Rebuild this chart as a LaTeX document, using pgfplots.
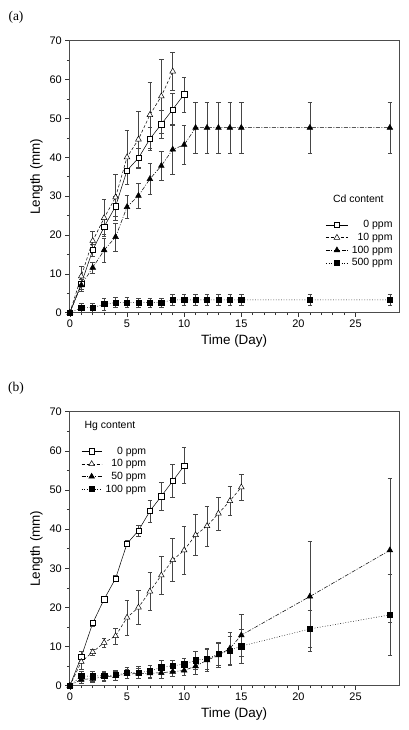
\documentclass[border=0pt]{standalone}
\usepackage{fontspec}
\setmainfont{Liberation Sans}
\newfontfamily\timesfont{Liberation Serif}
\usepackage{pgfplots}
\usepackage{pgfplotstable}
\pgfplotsset{compat=1.18}

% Panel (a): Cd
\pgfplotstableread{
x y e
0 0 0
1 7.5 1.5
2 16.1 1.5
3 22.1 2.0
4 27.4 2.5
5 36.6 3.5
6 39.8 2.5
7 44.7 3.0
8 48.5 3.6
9 52.3 4.1
10 56.2 4.5
}\cdA
\pgfplotstableread{
x y e
0 0 0
1 9.4 2.6
2 18.5 2.5
3 24.4 4.7
4 29.7 5.9
5 40.0 6.9
6 44.6 7.2
7 50.9 8.5
8 55.7 9.5
9 62.1 4.8
}\cdB
\pgfplotstableread{
x y e
0 0 0
1 7.1 1.5
2 11.6 1.5
3 16.1 3.0
4 19.5 3.6
5 27.2 3.0
6 30.1 3.2
7 34.4 4.0
8 37.8 3.7
9 42.0 6.5
10 43.2 5.1
11 47.6 6.5
12 47.6 6.5
13 47.6 6.5
14 47.6 6.5
15 47.6 6.5
21 47.6 6.5
28 47.6 6.5
}\cdC
\pgfplotstableread{
x y e
0 0 0
1 1.3 1.2
2 1.3 1.2
3 2.2 1.5
4 2.6 1.3
5 2.6 1.3
6 2.6 1.2
7 2.6 1.2
8 2.6 1.2
9 3.3 1.4
10 3.3 1.4
11 3.3 1.4
12 3.3 1.4
13 3.3 1.4
14 3.3 1.4
15 3.3 1.4
21 3.3 1.4
28 3.3 1.4
}\cdD

% Panel (b): Hg
\pgfplotstableread{
x y e
0 0 0
1 7.4 1.3
2 16.0 0.8
3 22.1 0.6
4 27.4 0.8
5 36.3 0.8
6 39.6 1.5
7 44.6 2.9
8 48.4 3.7
9 52.3 4.2
10 56.2 4.6
}\hgA
\pgfplotstableread{
x y e
0 0 0
1 6.1 1.8
2 8.6 0.8
3 11.0 1.2
4 12.7 2.0
5 17.4 4.4
6 20.0 4.3
7 24.1 4.8
8 28.2 4.9
9 32.1 5.5
10 34.6 6.1
11 38.5 5.3
12 40.8 5.1
13 44.0 4.2
14 47.2 3.7
15 50.7 3.3
}\hgB
\pgfplotstableread{
x y e
0 0 0
1 1.6 1.0
2 1.8 1.0
3 2.3 1.2
4 2.5 1.2
5 3.0 1.2
6 3.1 1.3
7 3.2 1.2
8 3.3 1.3
9 3.6 1.3
10 3.9 1.3
11 5.0 2.0
12 6.5 2.7
13 7.8 3.0
14 9.5 4.2
15 12.9 5.4
21 22.8 14.0
28 34.6 18.5
}\hgC
\pgfplotstableread{
x y e
0 0 0
1 2.5 1.3
2 2.4 1.3
3 2.6 1.2
4 2.7 1.3
5 3.3 1.4
6 3.4 1.6
7 3.7 1.6
8 4.7 1.7
9 5.1 1.4
10 5.5 1.5
11 6.5 2.3
12 6.9 2.7
13 8.1 3.0
14 9.0 3.6
15 10.1 4.3
21 14.5 4.7
28 18.1 10.4
}\hgD

\pgfplotsset{
  panel/.style={
    scale only axis, width=329.7bp,
    xmin=-0.05, xmax=28.8, ymin=0, ymax=70,
    xtick={0,5,...,25}, ytick={0,10,...,70},
    minor x tick num=4, minor y tick num=1,
    tick align=outside, xtick pos=bottom, ytick pos=left,
    major tick length=4bp, minor tick length=2.5bp,
    every tick/.style={black!80, line width=0.5bp},
    axis line style={line width=0.6bp, black!70},
    /pgf/number format/assume math mode=true,
    ticklabel style={font=\fontsize{11}{13}\selectfont},
    label style={font=\fontsize{13.5}{15}\selectfont},
    xlabel={Time (Day)}, ylabel={Length (mm)},
    clip=false,
    legend cell align=right,
    legend style={draw=none, fill=none, font=\fontsize{10.5}{12}\selectfont,
      row sep=2.6bp, inner sep=0pt,
      nodes={inner sep=0.6bp},
      /tikz/every odd column/.append style={column sep=3bp}},
  },
  ser/.style={black, line width=0.5bp,
    error bars/y dir=both, error bars/y explicit,
    error bars/error bar style={gray!55!black, line width=0.5bp, solid},
    error bars/error mark options={rotate=90, mark size=2.3bp, gray!55!black, line width=0.5bp, solid}},
  sOpen/.style={ser, solid, mark=square*, mark size=2.6bp, mark options={solid, line width=0.5bp, fill=white}},
  tOpen/.style={ser, dash pattern=on 3bp off 2bp, mark=triangle*, mark size=3.3bp, mark options={solid, line width=0.5bp, fill=white}},
  tFill/.style={ser, dash pattern=on 4bp off 1.5bp on 1bp off 1.5bp, mark=triangle*, mark size=3.3bp, mark options={solid, line width=0.5bp, fill=black}},
  sFill/.style={ser, dash pattern=on 0.8bp off 1.8bp, mark=square*, mark size=2.6bp, mark options={solid, line width=0.5bp, fill=black}},
}

\begin{document}
\begin{tikzpicture}[x=1bp,y=1bp]
\useasboundingbox (0,0) rectangle (408,730);
\node[font=\timesfont\fontsize{13.5}{15}\selectfont] at (16,713) {(a)};
\node[font=\timesfont\fontsize{13.5}{15}\selectfont] at (16,342) {(b)};

\begin{axis}[panel, height=272bp, at={(69.3bp,417.3bp)}, anchor=south west,
  legend image code/.code={\draw[mark repeat=2,mark phase=2] plot coordinates {(0bp,0bp) (11bp,0bp) (22bp,0bp)};},
  legend style={at={(axis cs:28.3,23.9)}, anchor=north east}]
\addplot[sOpen] table[x=x,y=y,y error=e]{\cdA};
\addlegendentry{0 ppm}
\addplot[tOpen] table[x=x,y=y,y error=e]{\cdB};
\addlegendentry{10 ppm}
\addplot[tFill] table[x=x,y=y,y error=e]{\cdC};
\addlegendentry{100 ppm}
\addplot[sFill] table[x=x,y=y,y error=e]{\cdD};
\addlegendentry{500 ppm}
\node[font=\fontsize{10.5}{12}\selectfont] at (axis cs:25.24,29.2) {Cd content};
\end{axis}

\begin{axis}[panel, height=274bp, at={(69.3bp,44.3bp)}, anchor=south west,
  legend image code/.code={\draw[mark repeat=2,mark phase=2] plot coordinates {(0bp,0bp) (10bp,0bp) (20bp,0bp)};},
  legend style={at={(axis cs:6.75,61.2)}, anchor=north east}]
\addplot[sOpen] table[x=x,y=y,y error=e]{\hgA};
\addlegendentry{0 ppm}
\addplot[tOpen] table[x=x,y=y,y error=e]{\hgB};
\addlegendentry{10 ppm}
\addplot[tFill] table[x=x,y=y,y error=e]{\hgC};
\addlegendentry{50 ppm}
\addplot[sFill] table[x=x,y=y,y error=e]{\hgD};
\addlegendentry{100 ppm}
\node[font=\fontsize{10.5}{12}\selectfont] at (axis cs:3.51,66.4) {Hg content};
\end{axis}
\end{tikzpicture}
\end{document}
